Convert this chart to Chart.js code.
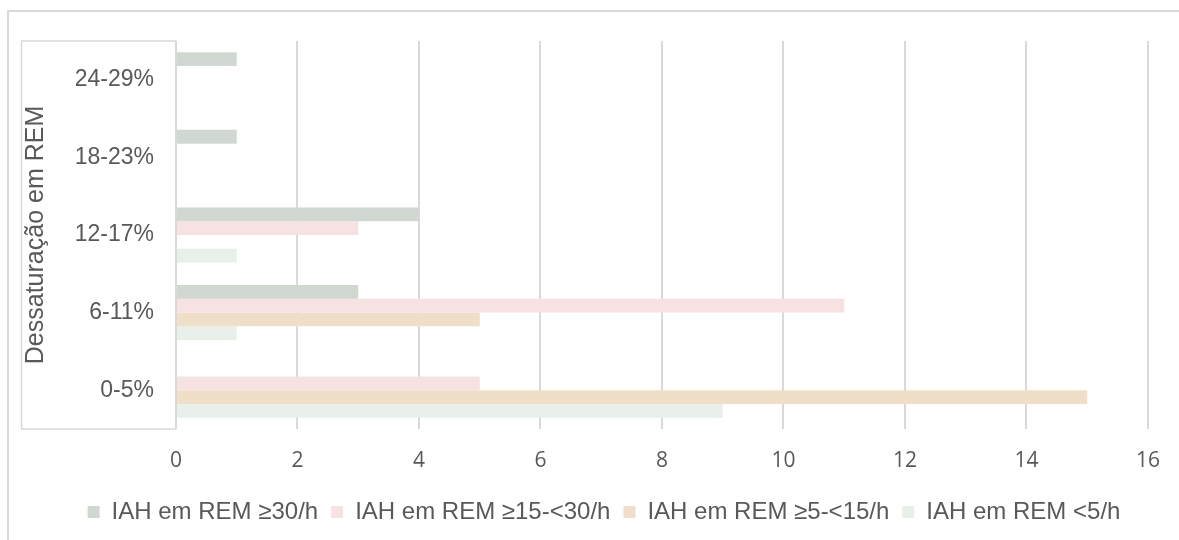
<!DOCTYPE html>
<html lang="pt">
<head>
<meta charset="utf-8">
<title>Dessaturação em REM por IAH em REM</title>
<script src="https://cdn.jsdelivr.net/npm/chart.js@4/dist/chart.umd.min.js"></script>
<style>
  html, body { margin: 0; padding: 0; background: #ffffff; }
  #wrap { width: 1179px; height: 540px; position: relative; }
</style>
</head>
<body>
<div id="wrap"><canvas id="chart"></canvas></div>
<script>
// Faixas de dessaturação (de cima para baixo)
const categories = ['24-29%', '18-23%', '12-17%', '6-11%', '0-5%'];

// Número de doentes por grupo de IAH em REM
const iah30 = [1, 1, 4, 3, 0];     // IAH em REM ≥30/h
const iah15 = [0, 0, 3, 11, 5];    // IAH em REM ≥15-<30/h
const iah5  = [0, 0, 0, 5, 15];    // IAH em REM ≥5-<15/h
const iahLt5 = [0, 0, 1, 1, 9];    // IAH em REM <5/h

const seriesNames = ['IAH em REM ≥30/h', 'IAH em REM ≥15-<30/h', 'IAH em REM ≥5-<15/h', 'IAH em REM <5/h'];
const xTicks = [0, 2, 4, 6, 8, 10, 12, 14, 16];

const colors = ['#d0d8d1', '#f6e2e2', '#f0dfc8', '#e8f0e9'];
const textColor = '#595959';
const lineColor = '#d9d9d9';

// Moldura exterior, caixa à volta dos rótulos do eixo vertical
// e deslocação da legenda para o centro da moldura
const framePlugin = {
  id: 'frames',
  afterLayout(chart) {
    const lg = chart.legend;
    if (lg) { lg.left += 29; lg.right += 29; }
  },
  beforeDraw(chart) {
    const ctx = chart.ctx;
    ctx.save();
    ctx.fillStyle = '#ffffff';
    ctx.fillRect(0, 0, chart.width, chart.height);
    ctx.strokeStyle = lineColor;
    ctx.lineWidth = 2;
    ctx.beginPath();
    ctx.moveTo(8, chart.height + 2);
    ctx.lineTo(8, 11);
    ctx.lineTo(chart.width + 2, 11);
    ctx.stroke();
    ctx.restore();
  },
  afterDraw(chart) {
    const ctx = chart.ctx;
    const a = chart.chartArea;
    ctx.save();
    ctx.strokeStyle = lineColor;
    ctx.lineWidth = 1.5;
    ctx.beginPath();
    ctx.moveTo(a.left, a.top);
    ctx.lineTo(21.5, a.top);
    ctx.lineTo(21.5, a.bottom);
    ctx.lineTo(a.left, a.bottom);
    ctx.stroke();
    ctx.restore();
  }
};

const datasets = [iah30, iah15, iah5, iahLt5].map((vals, i) => ({
  label: seriesNames[i],
  data: vals,
  backgroundColor: colors[i],
  borderWidth: 0,
  categoryPercentage: 0.71,
  barPercentage: 1.0
}));

new Chart(document.getElementById('chart'), {
  type: 'bar',
  data: { labels: categories, datasets },
  plugins: [framePlugin],
  options: {
    indexAxis: 'y',
    responsive: true,
    maintainAspectRatio: false,
    animation: false,
    layout: { padding: { top: 41, right: 29, bottom: 6, left: 0 } },
    plugins: {
      tooltip: { enabled: false },
      legend: {
        position: 'bottom',
        labels: {
          color: textColor,
          font: { family: '"Liberation Sans", Arial, sans-serif', size: 24 },
          boxWidth: 12,
          boxHeight: 12,
          padding: 13
        }
      }
    },
    scales: {
      x: {
        min: 0,
        max: 16,
        afterBuildTicks(scale) { scale.ticks = xTicks.map(v => ({ value: v })); },
        afterFit(scale) { scale.height = 58; },
        grid: { display: true, color: lineColor, lineWidth: 2, drawTicks: false },
        border: { display: false },
        ticks: {
          color: textColor,
          padding: 19,
          font: { family: '"Open Sans", sans-serif', size: 21 }
        }
      },
      y: {
        afterFit(scale) { scale.width = 176; },
        grid: { display: false, drawTicks: false },
        border: { display: false },
        ticks: {
          color: textColor,
          padding: 22,
          font: { family: '"Liberation Sans", Arial, sans-serif', size: 23 }
        },
        title: {
          display: true,
          text: 'Dessaturação em REM',
          color: textColor,
          padding: { top: 21, bottom: 0 },
          font: { family: '"Liberation Sans", Arial, sans-serif', size: 25 }
        }
      }
    }
  }
});
</script>
</body>
</html>
